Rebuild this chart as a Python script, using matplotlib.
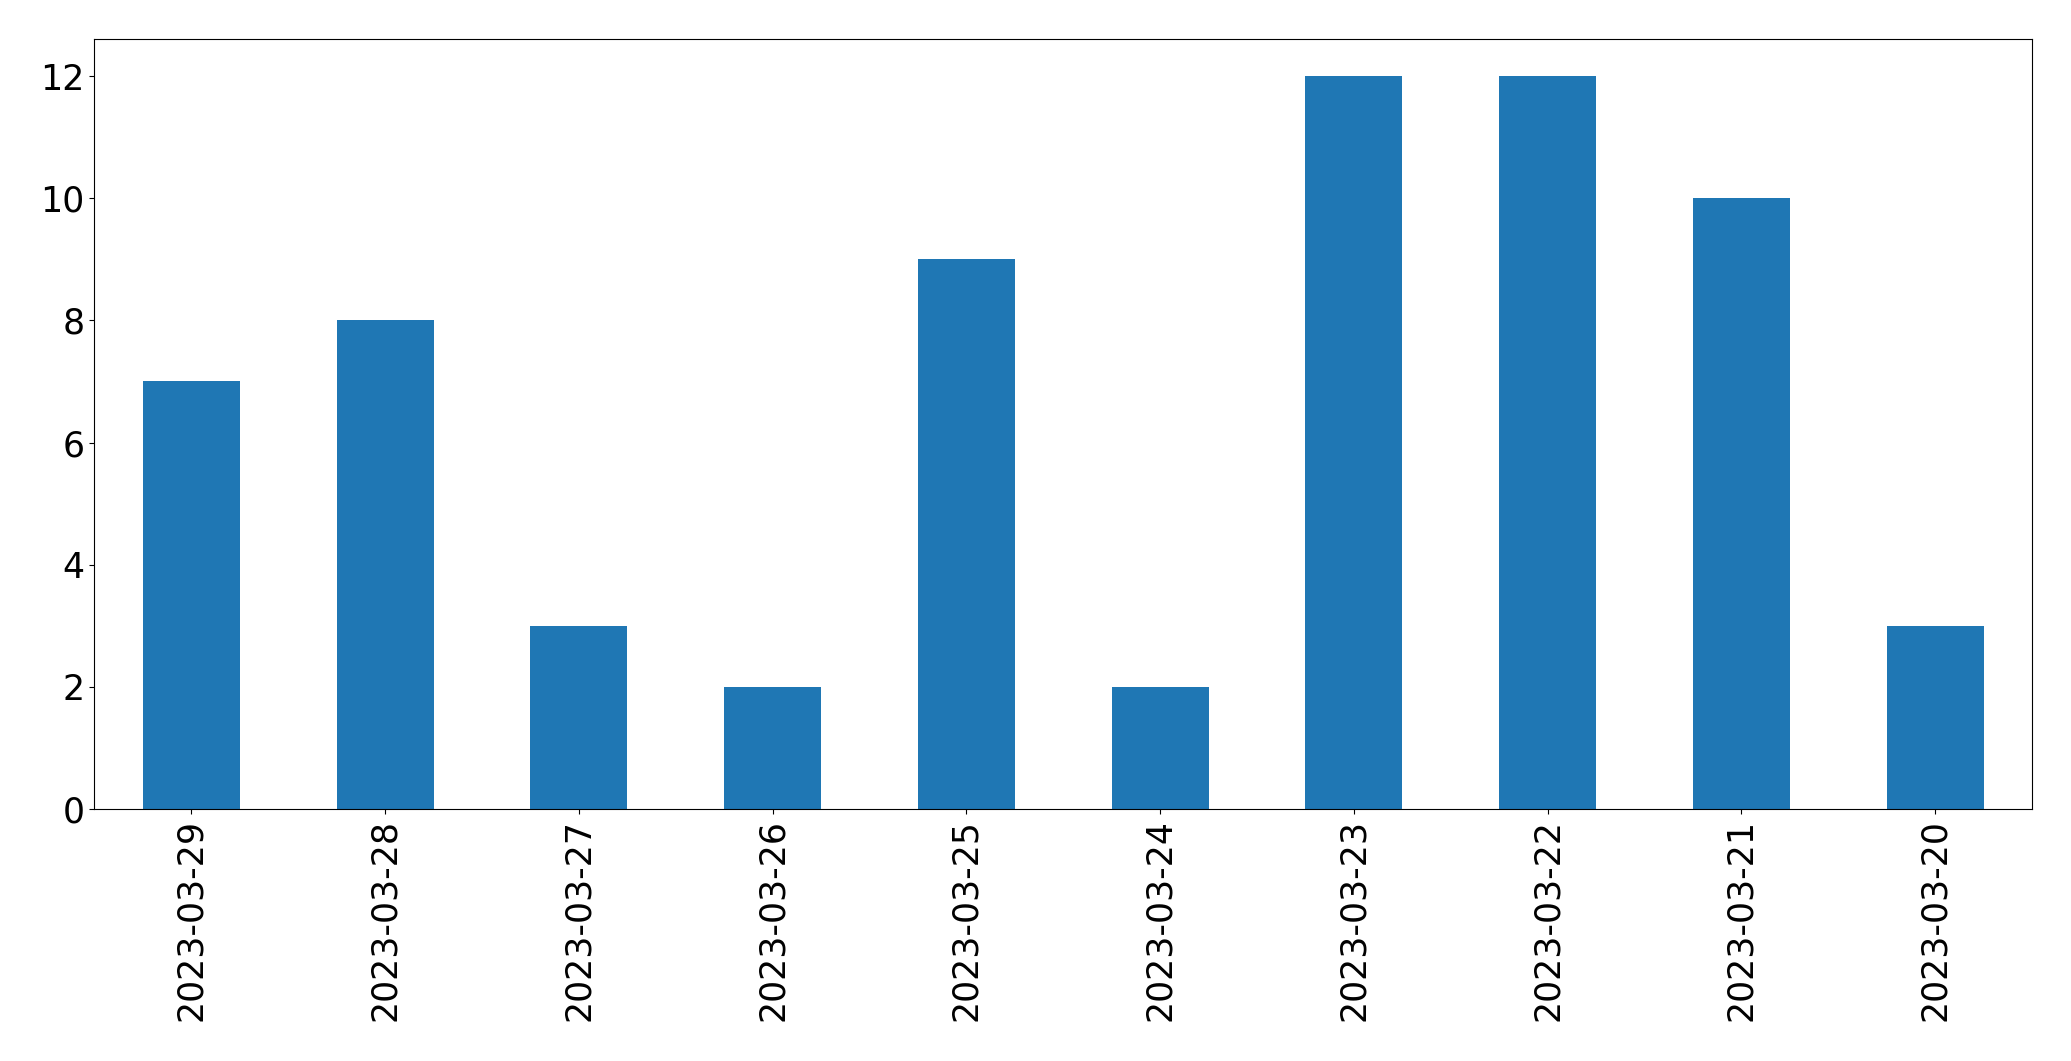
import matplotlib
matplotlib.use('Agg')
import matplotlib.pyplot as plt
import numpy as np

# Counts per day
dates = ['2023-03-29', '2023-03-28', '2023-03-27', '2023-03-26', '2023-03-25',
         '2023-03-24', '2023-03-23', '2023-03-22', '2023-03-21', '2023-03-20']
counts = [7, 8, 3, 2, 9, 2, 12, 12, 10, 3]

fig = plt.figure(figsize=(20.71, 10.61), dpi=100)
ax = fig.add_subplot(111)
fig.subplots_adjust(left=0.0456, right=0.9812, top=0.9628, bottom=0.2375)

x = np.arange(len(dates))
ax.bar(x, counts, width=0.5, color='#1f77b4')
ax.set_xlim(-0.5, len(dates) - 0.5)
ax.set_xticks(x)
ax.set_xticklabels(dates, rotation=90)
ax.tick_params(axis='both', labelsize=25)

plt.savefig('out.png', dpi=100)
plt.close()
